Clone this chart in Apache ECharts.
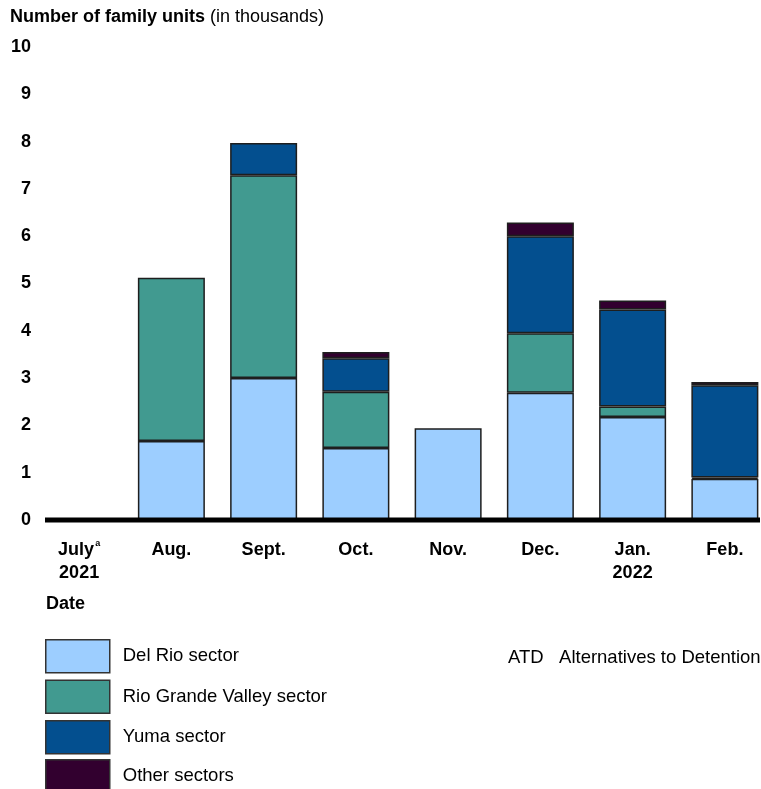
<!DOCTYPE html>
<html lang="en">
<head>
    <meta charset="utf-8" />
    <title>Family units by sector</title>
    <script src="https://cdn.jsdelivr.net/npm/echarts@6/dist/echarts.min.js"></script>
    <style>
        html, body { margin: 0; padding: 0; background: #fff; }
        #chartmain { width: 761px; height: 789px; }
    </style>
</head>
<body>
    <div id="chartmain"></div>
    <script>
        // months on the x axis (rich text for the superscript a)
        var months = ['July{sup|a}\n2021', 'Aug.', 'Sept.', 'Oct.', 'Nov.', 'Dec.', 'Jan.\n2022', 'Feb.'];
        // family units, in thousands
        var delRio = [0, 1.67, 3.0, 1.52, 1.94, 2.69, 2.18, 0.87];
        var rioGrande = [0, 3.45, 4.29, 1.19, 0, 1.26, 0.22, 0.03];
        var yuma = [0, 0, 0.68, 0.71, 0, 2.05, 2.05, 1.95];
        var otherSectors = [0, 0, 0, 0.13, 0, 0.29, 0.19, 0.07];
        var yTicks = [0, 10, 1]; // min, max, interval

        var FONT = 'Liberation Sans, Arial, sans-serif';

        function makeSeries(name, values, color) {
            return {
                name: name, type: 'bar', stack: 'all', barWidth: 67,
                data: values.map(function (v) { return v === 0 ? '-' : v; }),
                itemStyle: { color: color, borderColor: '#1e1e1e', borderWidth: 1.5 }
            };
        }

        // legend boxes: the list runs past the bottom edge, so split in two
        function makeLegend(names, top) {
            return {
                orient: 'vertical', left: 45, top: top, padding: 0, icon: 'rect',
                data: names,
                itemWidth: 64, itemHeight: 33, itemGap: 6,
                itemStyle: { borderColor: '#333', borderWidth: 1.5 },
                textStyle: { fontSize: 18.5, color: '#000', padding: [0, 0, 0, 8], fontFamily: FONT }
            };
        }

        var chart = echarts.init(document.getElementById('chartmain'));
        chart.setOption({
            animation: false,
            textStyle: { fontFamily: FONT },
            title: [
                { text: '{b|Number of family units} {n|(in thousands)}', left: 10, top: 8, padding: 0,
                  textStyle: { fontWeight: 'normal',
                               rich: { b: { fontSize: 18, fontWeight: 'bold', color: '#000', fontFamily: FONT },
                                       n: { fontSize: 18, fontWeight: 'normal', color: '#000', fontFamily: FONT } } } },
                { text: 'Date', left: 46, top: 595, padding: 0,
                  textStyle: { fontSize: 18, fontWeight: 'bold', color: '#000', fontFamily: FONT } },
                { text: 'ATD   Alternatives to Detention', left: 508, top: 648, padding: 0,
                  textStyle: { fontSize: 18.5, fontWeight: 'normal', color: '#000', fontFamily: FONT } }
            ],
            legend: [
                makeLegend(['Del Rio sector', 'Rio Grande Valley sector', 'Yuma sector'], 639),
                makeLegend(['Other sectors'], 759)
            ],
            grid: { left: 33, top: 47, width: 738, height: 473, outerBoundsMode: 'none', containLabel: false },
            xAxis: {
                type: 'category', data: months,
                axisLine: { show: false }, axisTick: { show: false },
                axisLabel: {
                    interval: 0, margin: 19, fontSize: 18, fontWeight: 'bold', color: '#000', lineHeight: 23,
                    rich: { sup: { fontSize: 9, fontWeight: 'bold', verticalAlign: 'top', padding: [0, 0, 9, 1], color: '#000' } }
                }
            },
            yAxis: {
                type: 'value', min: yTicks[0], max: yTicks[1], interval: yTicks[2],
                axisLine: { show: false }, axisTick: { show: false }, splitLine: { show: false },
                axisLabel: { fontSize: 18, fontWeight: 'bold', color: '#000', margin: 2 }
            },
            graphic: [
                { type: 'line', shape: { x1: 45, y1: 520, x2: 760, y2: 520 }, style: { stroke: '#000', lineWidth: 5 }, z: 10 }
            ],
            series: [
                makeSeries('Del Rio sector', delRio, '#9dceff'),
                makeSeries('Rio Grande Valley sector', rioGrande, '#419a90'),
                makeSeries('Yuma sector', yuma, '#034f8f'),
                makeSeries('Other sectors', otherSectors, '#32002f')
            ]
        });
    </script>
</body>
</html>
